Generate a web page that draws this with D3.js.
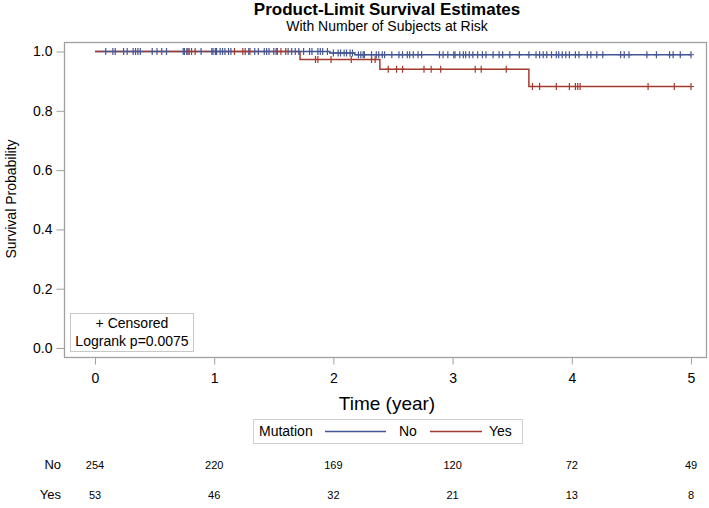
<!DOCTYPE html>
<html>
<head>
<meta charset="utf-8">
<script src="https://cdn.jsdelivr.net/npm/d3@7"></script>
<style>
  body { margin: 0; background: #fff; }
  svg { font-family: "Liberation Sans", Arial, sans-serif; }
</style>
</head>
<body>
<svg id="chart" width="709" height="508"></svg>
<script>
// step curves: time where survival changes, and survival after that time
const noTimes = [0, 1.97, 2.18, 5.0]
const noSurv = [1, 0.995, 0.989, 0.989]
const yesTimes = [0, 1.72, 2.39, 3.64, 5.0]
const yesSurv = [1, 0.973, 0.940, 0.882, 0.882]

// censored times
const noCensor = [0.09, 0.15, 0.17, 0.24, 0.27, 0.32, 0.34, 0.36, 0.38, 0.48, 0.52, 0.56, 0.60,
    0.74, 0.75, 0.77, 0.78, 0.81, 0.89, 0.98, 0.99, 1.01, 1.02, 1.05, 1.07, 1.09, 1.12, 1.14,
    1.29, 1.34, 1.37, 1.42, 1.44, 1.46, 1.50, 1.52, 1.62, 1.65, 1.68, 1.71, 1.75, 1.80, 1.82,
    1.87, 1.89, 1.91, 1.95, 2.00, 2.04, 2.06, 2.09, 2.11, 2.14, 2.16, 2.21, 2.23, 2.25, 2.26,
    2.32, 2.36, 2.38, 2.41, 2.43, 2.49, 2.55, 2.58, 2.62, 2.64, 2.67, 2.71, 2.74, 2.89, 2.92,
    2.96, 3.01, 3.02, 3.06, 3.09, 3.11, 3.14, 3.17, 3.21, 3.25, 3.28, 3.34, 3.39, 3.42, 3.48,
    3.56, 3.64, 3.70, 3.73, 3.76, 3.79, 3.83, 3.87, 3.89, 3.92, 3.95, 3.98, 4.03, 4.06, 4.13,
    4.16, 4.21, 4.26, 4.41, 4.44, 4.48, 4.63, 4.71, 4.82, 4.85, 4.91, 5.00]
const yesCensor = [0.79, 0.84, 1.17, 1.24, 1.26, 1.30, 1.53, 1.56, 1.60,
    1.85, 1.87, 1.98, 2.15, 2.32, 2.35,
    2.46, 2.53, 2.58, 2.76, 2.82, 2.90, 3.19, 3.24, 3.45,
    3.67, 3.73, 3.87, 3.98, 4.03, 4.05, 4.07, 4.64, 4.86, 5.00]

// number at risk table
const riskTimes = [0, 1, 2, 3, 4, 5]
const riskNo = [254, 220, 169, 120, 72, 49]
const riskYes = [53, 46, 32, 21, 13, 8]

const xTicks = [0, 1, 2, 3, 4, 5]
const yTicks = [0, 0.2, 0.4, 0.6, 0.8, 1.0]

const blue = "#445694", red = "#A23A2E", grey = "#A0A0A0"

const svg = d3.select("#chart")

// frame of the plot
const frame = {left: 64.5, right: 706.5, top: 42.5, bottom: 357.5}

const x = d3.scaleLinear().domain([0, 5]).range([95, 691])
const y = d3.scaleLinear().domain([0, 1]).range([348, 51.5])

// titles
svg.append("text")
    .attr("x", 387).attr("y", 15)
    .attr("text-anchor", "middle")
    .style("font-size", "17px").style("font-weight", "bold")
    .text("Product-Limit Survival Estimates")
svg.append("text")
    .attr("x", 387).attr("y", 31)
    .attr("text-anchor", "middle")
    .style("font-size", "14px")
    .text("With Number of Subjects at Risk")

svg.append("rect")
    .attr("x", frame.left).attr("y", frame.top)
    .attr("width", frame.right - frame.left).attr("height", frame.bottom - frame.top)
    .attr("fill", "none").attr("stroke", grey).attr("stroke-width", 1.3)

/*y axis*/
const yAxis = svg.append("g")
    .attr("transform", `translate(${frame.left},0)`)
    .call(d3.axisLeft(y).tickValues(yTicks).tickSize(8).tickPadding(4)
        .tickFormat(d3.format(".1f")))
yAxis.select(".domain").remove()
yAxis.selectAll("line").attr("stroke", grey)
yAxis.selectAll("text").style("font-size", "14px").style("font-family", "Liberation Sans, Arial").attr("fill", "#000")

/*x axis*/
const xAxis = svg.append("g")
    .attr("transform", `translate(0,${frame.bottom})`)
    .call(d3.axisBottom(x).tickValues(xTicks).tickSize(7).tickPadding(9)
        .tickFormat(d3.format("d")))
xAxis.select(".domain").remove()
xAxis.selectAll("line").attr("stroke", grey)
xAxis.selectAll("text").style("font-size", "14px").style("font-family", "Liberation Sans, Arial").attr("fill", "#000")

svg.append("text")
    .attr("transform", "translate(16,199) rotate(-90)")
    .attr("text-anchor", "middle")
    .style("font-size", "14px")
    .text("Survival Probability")

svg.append("text")
    .attr("x", 387).attr("y", 410)
    .attr("text-anchor", "middle")
    .style("font-size", "19px")
    .text("Time (year)")

// survival curves
const line = d3.line()
    .x(d => x(d[0]))
    .y(d => y(d[1]))
    .curve(d3.curveStepAfter)

function stepAt(times, surv, t) {
    const i = d3.bisectRight(times, t) - 1
    return surv[Math.max(0, Math.min(i, surv.length - 1))]
}

const series = [
    {times: noTimes, surv: noSurv, censor: noCensor, color: blue},
    {times: yesTimes, surv: yesSurv, censor: yesCensor, color: red}
]

series.forEach(s => {
    svg.append("path")
        .datum(d3.zip(s.times, s.surv))
        .attr("fill", "none")
        .attr("stroke", s.color)
        .attr("stroke-width", 1.5)
        .attr("d", line)
})

// censored marks
series.forEach(s => {
    svg.selectAll(null)
        .data(s.censor)
        .enter()
        .append("path")
            .attr("transform", t => `translate(${x(t)},${y(stepAt(s.times, s.surv, t))})`)
            .attr("d", "M-3,0H3M0,-3.5V3.5")
            .attr("fill", "none")
            .attr("stroke", s.color)
            .attr("stroke-width", 1.2)
})

// inset box
svg.append("rect")
    .attr("x", 70.5).attr("y", 313.5)
    .attr("width", 123).attr("height", 38)
    .attr("fill", "#fff").attr("stroke", "#C8C8C8")
svg.append("text")
    .attr("x", 132).attr("y", 328)
    .attr("text-anchor", "middle")
    .style("font-size", "14px")
    .text("+ Censored")
svg.append("text")
    .attr("x", 132).attr("y", 346)
    .attr("text-anchor", "middle")
    .style("font-size", "14px")
    .text("Logrank p=0.0075")

// legend
const lg = svg.append("g")
lg.append("rect")
    .attr("x", 253.5).attr("y", 419.5)
    .attr("width", 269).attr("height", 24)
    .attr("fill", "#fff").attr("stroke", "#D0D0D0")
lg.append("text").attr("x", 259).attr("y", 436).style("font-size", "14px").text("Mutation")
lg.append("line").attr("x1", 325).attr("x2", 386).attr("y1", 431.5).attr("y2", 431.5)
    .attr("stroke", blue).attr("stroke-width", 1.5)
lg.append("text").attr("x", 399).attr("y", 436).style("font-size", "14px").text("No")
lg.append("line").attr("x1", 430).attr("x2", 482).attr("y1", 431.5).attr("y2", 431.5)
    .attr("stroke", red).attr("stroke-width", 1.5)
lg.append("text").attr("x", 489).attr("y", 436).style("font-size", "14px").text("Yes")

// at risk table
const rows = [{label: "No", values: riskNo, y: 469}, {label: "Yes", values: riskYes, y: 499}]
rows.forEach(r => {
    svg.append("text")
        .attr("x", 61).attr("y", r.y)
        .attr("text-anchor", "end")
        .style("font-size", "13px")
        .text(r.label)
    svg.selectAll(null)
        .data(r.values)
        .enter()
        .append("text")
            .attr("x", (d, i) => x(riskTimes[i]))
            .attr("y", r.y)
            .attr("text-anchor", "middle")
            .style("font-size", "11px")
            .text(d => d)
})
</script>
</body>
</html>
